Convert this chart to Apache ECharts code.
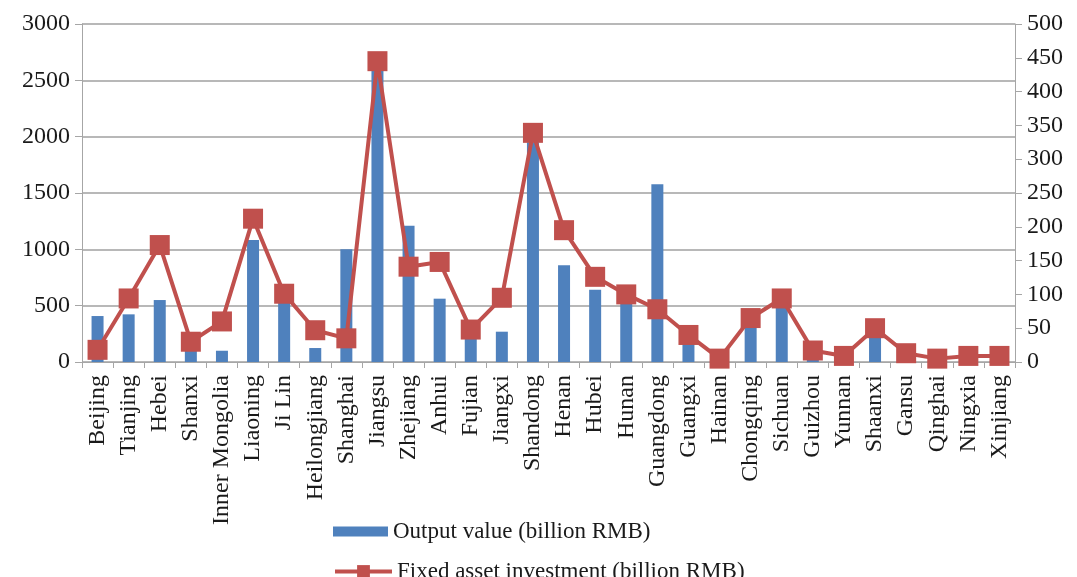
<!DOCTYPE html>
<html>
<head>
<meta charset="utf-8">
<script src="https://cdn.jsdelivr.net/npm/echarts@6/dist/echarts.min.js"></script>
<style>
  html, body { margin: 0; padding: 0; background: #fff; }
  #main { width: 1077px; height: 577px; }
</style>
</head>
<body>
<div id="main"></div>
<script>
// provinces on the x axis
const provinces = ['Beijing', 'Tianjing', 'Hebei', 'Shanxi', 'Inner Mongolia', 'Liaoning', 'Ji Lin',
  'Heilongjiang', 'Shanghai', 'Jiangsu', 'Zhejiang', 'Anhui', 'Fujian', 'Jiangxi', 'Shandong',
  'Henan', 'Hubei', 'Hunan', 'Guangdong', 'Guangxi', 'Hainan', 'Chongqing', 'Sichuan', 'Guizhou',
  'Yunnan', 'Shaanxi', 'Gansu', 'Qinghai', 'Ningxia', 'Xinjiang'];

// output value, left axis
const outputValue = [408, 423, 550, 120, 100, 1083, 590, 124, 1000, 2600, 1210, 562, 230, 269, 1950,
  858, 642, 560, 1577, 160, 10, 330, 500, 50, 20, 230, 30, 10, 10, 20];

// fixed asset investment, right axis
const fixedInvest = [18, 94, 173, 30, 60, 212, 101, 47, 35, 445, 141, 148, 48, 95, 339,
  195, 126, 100, 78, 40, 5, 65, 94, 17, 9, 50, 13, 5, 9, 9];

const leftTicks = { min: 0, max: 3000, interval: 500 };
const rightTicks = { min: 0, max: 500, interval: 50 };

const font = 'Liberation Serif';
const txt = '#1a1a1a';
const axisGray = '#a6a6a6';

let chart = echarts.init(document.getElementById('main'), null, { renderer: 'canvas' });

const legendText = { fontFamily: font, fontSize: 23, color: txt };

let option = {
  backgroundColor: '#fff',
  animation: false,
  textStyle: { fontFamily: font },
  grid: { left: 82, right: 62, top: 24, bottom: 215 },
  legend: [
    {
      left: 328,
      top: 515,
      itemWidth: 55,
      itemHeight: 10,
      icon: 'rect',
      textStyle: legendText,
      data: ['Output value (billion RMB)']
    },
    {
      left: 328,
      top: 555,
      itemWidth: 57,
      itemHeight: 16,
      lineStyle: { width: 4 },
      textStyle: legendText,
      data: ['Fixed asset investment (billion RMB)']
    }
  ],
  xAxis: {
    type: 'category',
    data: provinces,
    boundaryGap: true,
    axisLine: { lineStyle: { color: axisGray, width: 1 } },
    axisTick: { show: true, interval: 0, length: 6, lineStyle: { color: axisGray } },
    axisLabel: {
      interval: 0,
      rotate: 90,
      margin: 13,
      fontFamily: font,
      fontSize: 24,
      color: txt
    }
  },
  yAxis: [
    {
      type: 'value',
      min: leftTicks.min,
      max: leftTicks.max,
      interval: leftTicks.interval,
      axisLine: { show: true, lineStyle: { color: axisGray } },
      axisTick: { show: true, length: 7, lineStyle: { color: axisGray } },
      splitLine: { show: true, lineStyle: { color: '#a0a0a0', width: 1.5 } },
      axisLabel: { fontFamily: font, fontSize: 24, color: txt, margin: 12, formatter: v => String(v) }
    },
    {
      type: 'value',
      min: rightTicks.min,
      max: rightTicks.max,
      interval: rightTicks.interval,
      position: 'right',
      axisLine: { show: true, lineStyle: { color: axisGray } },
      axisTick: { show: true, length: 7, lineStyle: { color: axisGray } },
      splitLine: { show: false },
      axisLabel: { fontFamily: font, fontSize: 24, color: txt, margin: 12, formatter: v => String(v) }
    }
  ],
  series: [
    {
      name: 'Output value (billion RMB)',
      type: 'bar',
      yAxisIndex: 0,
      data: outputValue,
      barWidth: 12,
      itemStyle: { color: '#4F81BD' },
      z: 2
    },
    {
      name: 'Fixed asset investment (billion RMB)',
      type: 'line',
      yAxisIndex: 1,
      data: fixedInvest,
      symbol: 'rect',
      symbolSize: 20,
      lineStyle: { color: '#C0504D', width: 4 },
      itemStyle: { color: '#C0504D' },
      z: 3
    }
  ]
};

chart.setOption(option);
</script>
</body>
</html>
